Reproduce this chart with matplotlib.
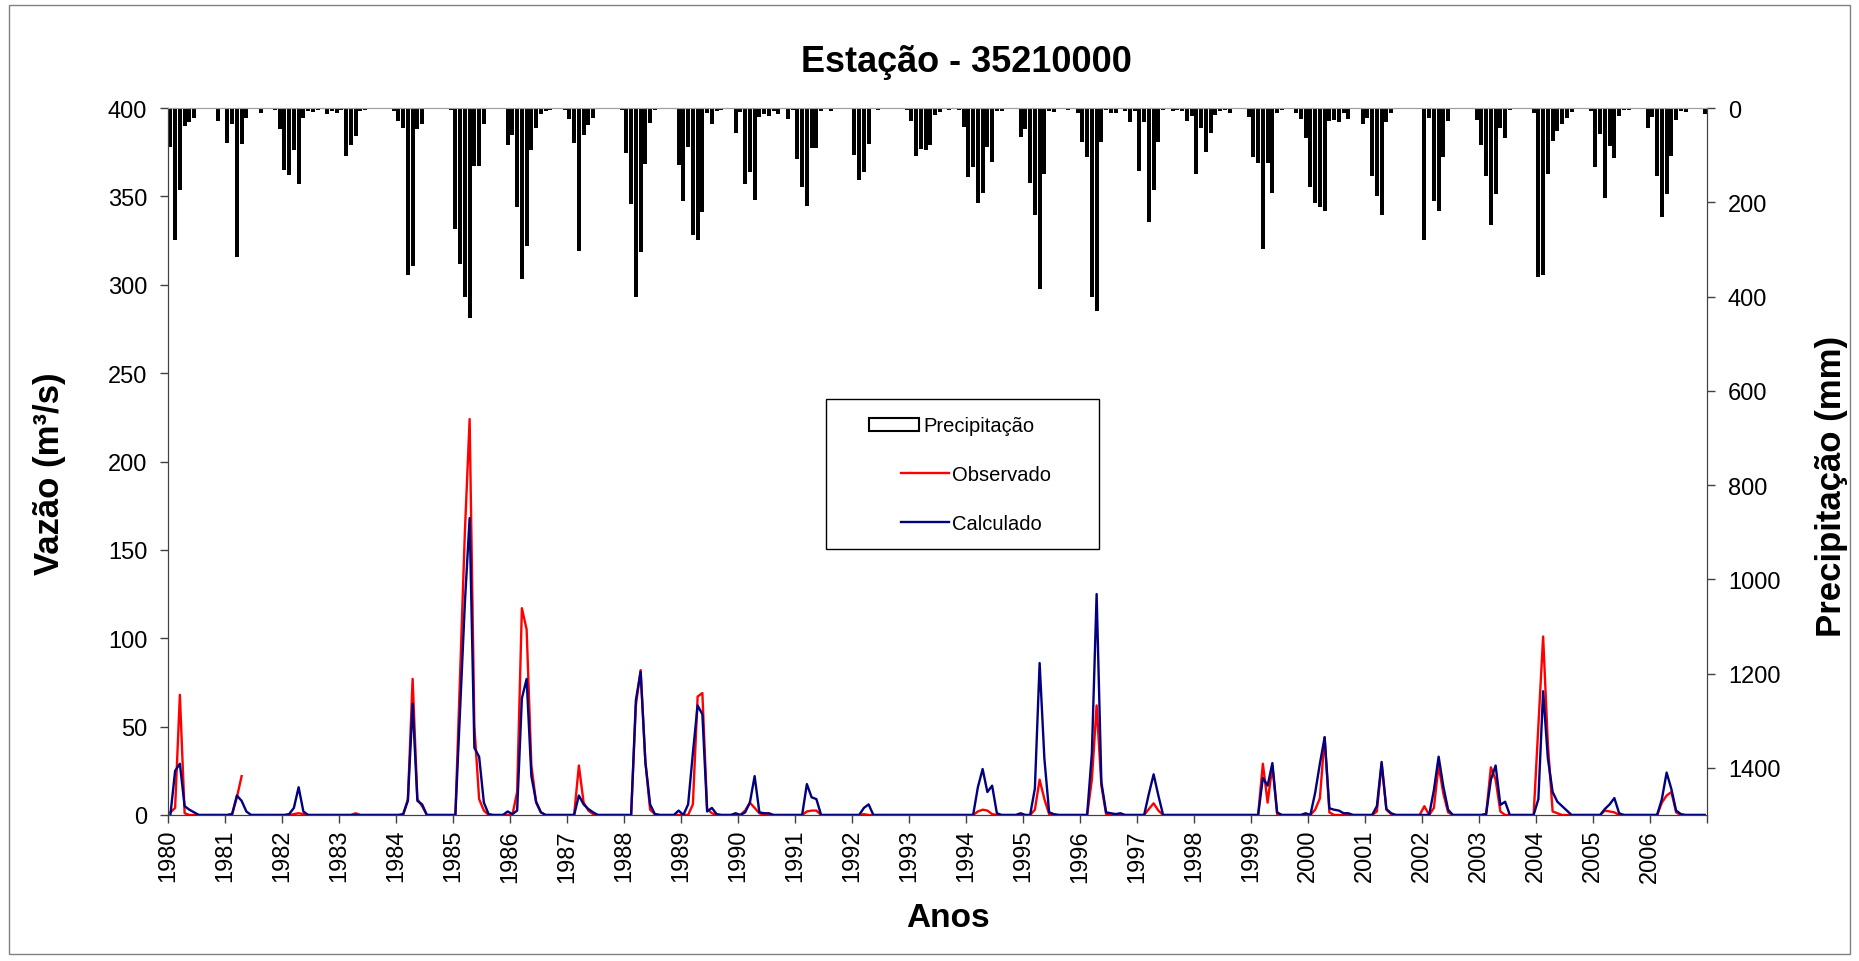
import numpy as np
import matplotlib
matplotlib.use("Agg")
import matplotlib.pyplot as plt
from matplotlib.patches import Patch, Rectangle
from matplotlib.lines import Line2D

plt.rcParams['font.family'] = ['Liberation Sans', 'DejaVu Sans']

nan = np.nan
anos = list(range(1980, 2007))

# precipitacao mensal (mm), um ano por linha
precip = [
    [83, 281, 174, 38, 30, 21, 0, 0, 0, 0, 28, 0],
    [75, 33, 317, 76, 22, 0, 0, 11, 0, 0, 4, 45],
    [131, 143, 90, 161, 22, 6, 8, 4, 0, 13, 7, 11],
    [4, 101, 78, 59, 6, 4, 0, 0, 0, 0, 0, 6],
    [28, 42, 354, 335, 45, 33, 0, 0, 0, 0, 3, 4],
    [257, 330, 400, 446, 122, 122, 35, 0, 0, 0, 0, 78],
    [57, 209, 363, 292, 89, 42, 13, 7, 4, 0, 0, 4],
    [24, 74, 304, 57, 36, 21, 0, 0, 0, 0, 0, 4],
    [96, 204, 400, 305, 119, 31, 4, 0, 0, 0, 0, 121],
    [197, 82, 269, 280, 220, 11, 33, 6, 4, 0, 0, 54],
    [9, 161, 136, 195, 20, 13, 16, 7, 13, 0, 23, 4],
    [108, 167, 207, 85, 85, 6, 0, 6, 0, 0, 0, 0],
    [99, 153, 136, 76, 0, 4, 0, 0, 0, 0, 0, 4],
    [27, 101, 87, 89, 78, 14, 9, 0, 4, 0, 4, 41],
    [146, 126, 202, 181, 82, 114, 7, 7, 0, 0, 0, 62],
    [45, 160, 228, 383, 139, 6, 9, 0, 0, 4, 0, 11],
    [73, 103, 402, 430, 73, 4, 11, 11, 0, 6, 30, 6],
    [133, 30, 241, 175, 73, 4, 0, 6, 4, 7, 27, 16],
    [141, 42, 94, 52, 14, 7, 4, 11, 0, 0, 0, 20],
    [103, 117, 299, 117, 180, 11, 4, 0, 0, 11, 23, 64],
    [167, 202, 209, 219, 27, 25, 29, 11, 24, 0, 0, 34],
    [21, 144, 186, 228, 29, 11, 0, 0, 0, 0, 0, 0],
    [281, 21, 197, 219, 103, 27, 0, 0, 0, 0, 0, 25],
    [78, 144, 248, 182, 42, 64, 4, 0, 0, 0, 0, 11],
    [358, 354, 139, 71, 48, 34, 21, 9, 0, 0, 0, 6],
    [126, 55, 190, 80, 106, 16, 4, 4, 0, 0, 0, 42],
    [20, 144, 232, 182, 101, 25, 6, 9, 0, 0, 0, 13],
]

# vazao observada (m3/s)
observado = [
    [1.5, 4, 68, 1, 0, 0, 0, 0, 0, 0, 0, 0],
    [0, 0.5, 10, 22, nan, 0, 0, 0, 0, 0, 0, 0],
    [0, 0, 0.5, 1, 0.5, 0, 0, 0, 0, 0, 0, 0],
    [0, 0, 0, 1, 0, 0, 0, 0, 0, 0, 0, 0],
    [0, 0, 9, 77, 9, 5, 0, 0, 0, 0, 0, 0],
    [0, 80, 160, 224, 50, 9, 2.5, 0, 0, 0, 0, 0],
    [0, 13, 117, 105, 28, 7, 1.5, 0, 0, 0, 0, 0],
    [0, 0, 28, 7, 2.5, 0.5, 0, 0, 0, 0, 0, 0],
    [0, 0, 62, 82, 30, 3, 0.5, 0, 0, 0, 0, 0],
    [0, 0, 6, 67, 69, 3.4, 1, 0, 0, 0, 0, 0],
    [0, 2.5, 7, 4, 1, 0, 0, 0, 0, 0, 0, 0],
    [0, 0, 2, 2.5, 2.5, 0, 0, 0, 0, 0, 0, 0],
    [0, 0, 0.5, 0, 0, 0, 0, 0, 0, 0, 0, 0],
    [0, 0, 0, 0, 0, 0, 0, 0, 0, 0, 0, 0],
    [0, 0, 2, 3, 2.5, 0.5, 0, 0, 0, 0, 0, 0],
    [0, 0, 3, 20, 9, 0.5, 0, 0, 0, 0, 0, 0],
    [0, 0, 20, 62, 16.6, 0.5, 0, 0, 0, 0, 0, 0],
    [0, 0, 3.4, 6.6, 2.5, 0, 0, 0, 0, 0, 0, 0],
    [0, 0, 0, 0, 0, 0, 0, 0, 0, 0, 0, 0],
    [0, 0, 29, 7, 28, 0.5, 0, 0, 0, 0, 0, 0],
    [0, 3, 9.4, 44, 1.5, 0, 0, 0, 0, 0, 0, 0],
    [0, 0, 2, 29, 3, 0.5, 0, 0, 0, 0, 0, 0],
    [5, 0, 4, 28, 12, 1.5, 0, 0, 0, 0, 0, 0],
    [0, 0.5, 27, 20, 2, 0, 0, 0, 0, 0, 0, 0],
    [50, 101, 40, 2, 1, 0, 0, 0, 0, 0, 0, 0],
    [0, 0, 2.5, 2, 1.5, 0, 0, 0, 0, 0, 0, 0],
    [0, 0, 7, 11, 13, 1.5, 0, 0, 0, 0, 0, 0],
]

# vazao calculada (m3/s)
calculado = [
    [0, 25, 29, 5, 3, 1.5, 0, 0, 0, 0, 0, 0],
    [0, 0.5, 11, 8, 2, 0, 0, 0, 0, 0, 0, 0],
    [0, 0.5, 4, 15.7, 2, 0, 0, 0, 0, 0, 0, 0],
    [0, 0, 0, 0, 0, 0, 0, 0, 0, 0, 0, 0],
    [0, 0.5, 8, 63, 8, 6, 0, 0, 0, 0, 0, 0],
    [0, 60, 120, 168, 38, 33, 7, 0.5, 0, 0, 0, 2],
    [0.5, 2.5, 66, 77, 22, 7.5, 1.5, 0, 0, 0, 0, 0],
    [0, 0, 11, 6, 3.4, 1.5, 0, 0, 0, 0, 0, 0],
    [0, 0, 65, 81, 30, 6, 0.5, 0, 0, 0, 0, 2.5],
    [0, 6, 35, 62, 57, 2, 4, 0.5, 0, 0, 0, 1],
    [0, 1.5, 7, 22, 1.5, 1, 1, 0, 0, 0, 0, 0],
    [0, 0, 17.5, 10, 9, 0, 0, 0, 0, 0, 0, 0],
    [0, 0, 4, 6, 0, 0, 0, 0, 0, 0, 0, 0],
    [0, 0, 0, 0, 0, 0, 0, 0, 0, 0, 0, 0],
    [0, 0, 15.7, 26, 13, 16.6, 1, 0, 0, 0, 0, 1],
    [0, 0, 15, 86, 32, 1.5, 0.5, 0, 0, 0, 0, 0],
    [0, 0, 35, 125, 18.5, 1.5, 1, 0.5, 1, 0, 0, 0],
    [0, 0, 12, 23, 11, 0, 0, 0, 0, 0, 0, 0],
    [0, 0, 0, 0, 0, 0, 0, 0, 0, 0, 0, 0],
    [0, 0, 21, 16.6, 29.4, 1.5, 0, 0, 0, 0, 0, 1],
    [0, 12.5, 29, 44, 3.8, 3, 2.5, 1, 1, 0, 0, 0],
    [0, 0, 5, 30, 3.4, 1, 0, 0, 0, 0, 0, 0],
    [0, 0, 14, 33, 16, 3, 0, 0, 0, 0, 0, 0],
    [0, 0.5, 20, 28, 5.7, 7.5, 0, 0, 0, 0, 0, 0],
    [9, 70, 32, 13, 7.5, 5, 2.5, 0, 0, 0, 0, 0],
    [0, 0, 3.4, 6, 9.6, 1, 0, 0, 0, 0, 0, 0],
    [0, 0, 9, 24, 14.7, 2.5, 0.5, 0, 0, 0, 0, 0],
]

P = np.array(precip, dtype=float).ravel()
Qobs = np.array(observado, dtype=float).ravel()
Qcal = np.array(calculado, dtype=float).ravel()
n = len(P)
x = np.arange(n) + 0.5

W, H = 1859, 962
fig = plt.figure(figsize=(W / 100, H / 100), dpi=100)
ax = fig.add_axes([168 / W, 1 - 816 / H, (1707 - 168) / W, (816 - 109) / H])
ax2 = ax.twinx()

ax2.bar(x, P, width=0.85, color='black', edgecolor='none')
ax2.set_ylim(1500, 0)
ax2.set_yticks(range(0, 1401, 200))

ax.plot(x, Qobs, color='#ff0000', lw=1.7)
ax.plot(x, Qcal, color='#000080', lw=1.7)
ax.set_ylim(0, 400)
ax.set_yticks(range(0, 401, 50))
ax.set_xlim(0, n)
ax.set_xticks(range(0, n + 1, 12))
ax.set_xticklabels([str(a) for a in anos] + [''], rotation=90)

ax.set_zorder(ax2.get_zorder() + 1)
ax.patch.set_visible(False)

for a in (ax, ax2):
    a.tick_params(direction='out', length=6, width=1, labelsize=17, color='#404040')
    a.tick_params(axis='y', pad=9)
    for s in a.spines.values():
        s.set_color('#404040')
    a.spines['top'].set_color('#a0a0a0')
ax.tick_params(axis='x', pad=4)

fig.text(966 / W, 1 - 62 / H, 'Estação - 35210000', ha='center', va='center',
         fontsize=26, fontweight='bold')
fig.text(50 / W, 1 - 474 / H, 'Vazão (m³/s)', ha='center', va='center',
         rotation=90, fontsize=25, fontweight='bold')
fig.text(1832 / W, 1 - 486 / H, 'Precipitação (mm)', ha='center', va='center',
         rotation=90, fontsize=25, fontweight='bold')
fig.text(948 / W, 1 - 919 / H, 'Anos', ha='center', va='center',
         fontsize=24, fontweight='bold')

# legenda
fig.patches.append(Rectangle((826 / W, 1 - 550 / H), 273 / W, 150 / H, transform=fig.transFigure,
                             fill=False, edgecolor='black', lw=1))
leg1 = fig.legend([Patch(facecolor='white', edgecolor='black', lw=1.5)], ['Precipitação'],
                  loc='center left', bbox_to_anchor=(869 / W, 1 - 427 / H), frameon=False,
                  fontsize=14.5, handlelength=2.5, handleheight=0.6, handletextpad=0.2, borderpad=0,
                  borderaxespad=0)
leg2 = fig.legend([Line2D([], [], color='#ff0000', lw=1.7), Line2D([], [], color='#000080', lw=1.7)],
                  ['Observado', 'Calculado'], loc='center left',
                  bbox_to_anchor=(901 / W, 1 - 500 / H), frameon=False, fontsize=14.5,
                  handlelength=2.4, handletextpad=0.15, labelspacing=1.45, borderpad=0,
                  borderaxespad=0)

fig.patches.append(Rectangle((9 / W, 1 - 955 / H), 1841 / W, 949 / H, transform=fig.transFigure,
                             fill=False, edgecolor='#808080', lw=1))

fig.savefig('out.png', dpi=100)
